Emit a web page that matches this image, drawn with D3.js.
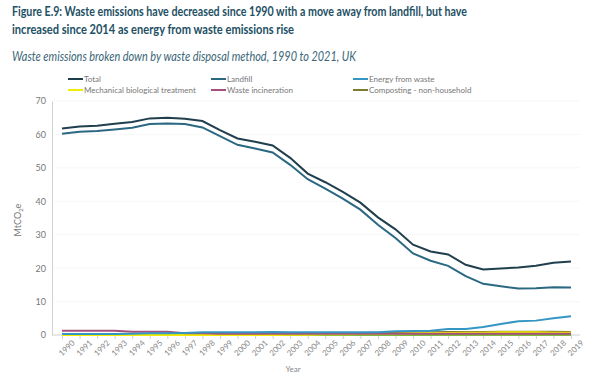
<!DOCTYPE html>
<html>
<head>
<meta charset="utf-8">
<script src="https://cdn.jsdelivr.net/npm/d3@7"></script>
<style>
  body { margin: 0; background: #fff; font-family: Lato, sans-serif; }
  svg { display: block; }
</style>
</head>
<body>
<script>
// years shown on the x axis
const years = d3.range(1990, 2020);

// MtCO2e
const total = [61.8, 62.4, 62.6, 63.2, 63.7, 64.8, 65.0, 64.7, 64.0, 61.3,
  58.8, 57.8, 56.7, 53.0, 48.3, 45.7, 42.8, 39.6, 35.2, 31.6,
  27.0, 25.0, 24.1, 21.0, 19.6, 19.9, 20.2, 20.7, 21.6, 22.0];
const landfill = [60.2, 60.8, 61.0, 61.5, 62.0, 63.1, 63.3, 63.1, 62.1, 59.5,
  56.9, 55.8, 54.6, 50.9, 46.6, 43.8, 40.8, 37.5, 33.0, 29.0,
  24.4, 22.2, 20.7, 17.6, 15.3, 14.6, 13.9, 14.0, 14.3, 14.2];
const energyFromWaste = [0.3, 0.3, 0.3, 0.3, 0.4, 0.5, 0.5, 0.6, 0.8, 0.8,
  0.8, 0.8, 0.9, 0.8, 0.8, 0.8, 0.8, 0.8, 0.8, 1.1,
  1.2, 1.3, 1.8, 1.8, 2.4, 3.3, 4.1, 4.3, 5.0, 5.6];
const mbt = [0, 0, 0, 0, 0, 0, 0, 0, 0, 0,
  0, 0, 0, 0.1, 0.1, 0.2, 0.2, 0.3, 0.3, 0.4,
  0.5, 0.6, 0.6, 0.7, 0.7, 0.8, 0.8, 0.8, 0.7, 0.7];
const incineration = [1.3, 1.3, 1.3, 1.3, 1.0, 1.0, 1.0, 0.5, 0.5, 0.4,
  0.4, 0.4, 0.4, 0.4, 0.4, 0.4, 0.4, 0.4, 0.4, 0.4,
  0.4, 0.4, 0.4, 0.4, 0.4, 0.4, 0.4, 0.4, 0.4, 0.4];
const composting = [0.1, 0.1, 0.1, 0.1, 0.1, 0.2, 0.2, 0.3, 0.3, 0.3,
  0.4, 0.4, 0.5, 0.5, 0.5, 0.6, 0.6, 0.6, 0.7, 0.7,
  0.8, 0.8, 0.9, 0.9, 0.9, 1.0, 1.0, 1.0, 1.0, 0.9];
const other = [0.1, 0.1, 0.1, 0.1, 0.1, 0.1, 0.1, 0.1, 0.1, 0.1,
  0.1, 0.1, 0.1, 0.1, 0.1, 0.1, 0.1, 0.1, 0.1, 0.1,
  0.1, 0.1, 0.1, 0.1, 0.1, 0.1, 0.1, 0.1, 0.1, 0.1];

const yTicks = [0, 10, 20, 30, 40, 50, 60, 70];

// draw order: small ones first, big lines on top
const series = [
  { name: "Other", values: other, color: "#7cb83a" },
  { name: "Composting - non-household", values: composting, color: "#7f7a30" },
  { name: "Mechanical biological treatment", values: mbt, color: "#f2ec00" },
  { name: "Waste incineration", values: incineration, color: "#a4507c" },
  { name: "Energy from waste", values: energyFromWaste, color: "#3596c4" },
  { name: "Landfill", values: landfill, color: "#2b6882" },
  { name: "Total", values: total, color: "#203f4d" }
];
const legendOrder = ["Total", "Landfill", "Energy from waste",
  "Mechanical biological treatment", "Waste incineration", "Composting - non-household"];

let width = 610, height = 375;

const svg = d3.select("body").append("svg")
  .attr("width", width)
  .attr("height", height);

// headings
svg.append("text").attr("x", 12).attr("y", 16)
  .attr("font-size", 14).attr("font-weight", 700).attr("fill", "#1d5064")
  .attr("textLength", 455).attr("lengthAdjust", "spacingAndGlyphs")
  .text("Figure E.9: Waste emissions have decreased since 1990 with a move away from landfill, but have");
svg.append("text").attr("x", 12).attr("y", 34)
  .attr("font-size", 14).attr("font-weight", 700).attr("fill", "#1d5064")
  .attr("textLength", 282).attr("lengthAdjust", "spacingAndGlyphs")
  .text("increased since 2014 as energy from waste emissions rise");
svg.append("text").attr("x", 12).attr("y", 61)
  .attr("font-size", 13).attr("font-style", "italic").attr("fill", "#3b6677")
  .attr("textLength", 344).attr("lengthAdjust", "spacingAndGlyphs")
  .text("Waste emissions broken down by waste disposal method, 1990 to 2021, UK");

// legend
const legCols = [68, 211, 353];
legendOrder.forEach((name, i) => {
  const s = series.find(d => d.name === name);
  const lx = legCols[i % 3], ly = 79 + Math.floor(i / 3) * 11;
  svg.append("line").attr("x1", lx).attr("x2", lx + 15).attr("y1", ly).attr("y2", ly)
    .attr("stroke", s.color).attr("stroke-width", 2);
  svg.append("text").attr("x", lx + 16).attr("y", ly + 3)
    .attr("font-size", 8).attr("fill", "#777").text(name);
});

// scales
const x = d3.scalePoint().domain(years).range([62, 571]);
const y = d3.scaleLinear().domain([0, 70]).range([335, 101]);

// gridlines
svg.append("g").selectAll("line").data(yTicks.slice(1)).enter().append("line")
  .attr("x1", 52).attr("x2", 580)
  .attr("y1", d => y(d)).attr("y2", d => y(d))
  .attr("stroke", "#e6e6e6").attr("stroke-width", 0.7).attr("stroke-dasharray", "1,1");

// y axis
const yAxis = svg.append("g").attr("transform", "translate(52,0)")
  .call(d3.axisLeft(y).tickValues(yTicks).tickSize(0).tickPadding(6));
yAxis.select(".domain").attr("stroke", "#d0d0d0");
yAxis.selectAll("text").attr("font-size", 9).attr("fill", "#777")
  .attr("font-family", "Lato, sans-serif");

// x axis
const xAxis = svg.append("g").attr("transform", "translate(0,335)")
  .call(d3.axisBottom(x).tickSizeOuter(0).tickSize(4));
xAxis.select(".domain").attr("stroke", "#d0d0d0").attr("d", "M52,0H580");
xAxis.selectAll(".tick line").attr("stroke", "#d0d0d0");
xAxis.selectAll("text")
  .attr("font-size", 8).attr("fill", "#888").attr("font-family", "Lato, sans-serif")
  .attr("text-anchor", "end").attr("dx", "3").attr("dy", "8")
  .attr("transform", "rotate(-45)");

// axis titles
const yl = svg.append("text").attr("transform", "translate(21,220) rotate(-90)")
  .attr("text-anchor", "middle").attr("font-size", 9).attr("fill", "#777");
yl.append("tspan").text("MtCO");
yl.append("tspan").attr("font-size", 6).attr("dy", 2).text("2");
yl.append("tspan").attr("dy", -2).text("e");
svg.append("text").attr("x", 293).attr("y", 372).attr("text-anchor", "middle")
  .attr("font-size", 8).attr("fill", "#888").text("Year");

// lines
const line = d3.line()
  .x((d, i) => x(years[i]))
  .y(d => y(d));

svg.append("g").selectAll("path").data(series).enter().append("path")
  .attr("d", d => line(d.values))
  .attr("fill", "none")
  .attr("stroke", d => d.color)
  .attr("stroke-width", d => d.name === "Other" ? 2.5 : 2);
</script>
</body>
</html>
